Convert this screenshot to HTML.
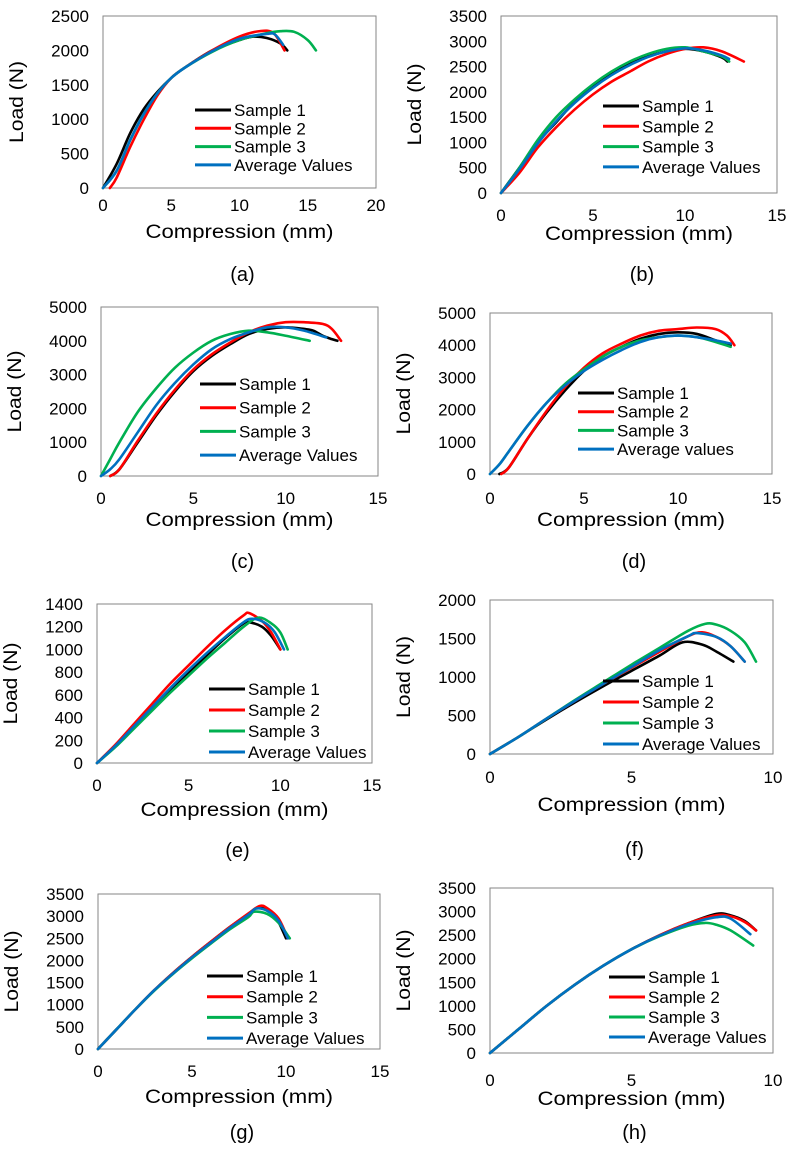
<!DOCTYPE html>
<html><head><meta charset="utf-8"><style>
html,body{margin:0;padding:0;background:#fff;}
svg{display:block;font-family:"Liberation Sans",sans-serif;}
</style></head><body>
<svg id="fig" width="791" height="1151" viewBox="0 0 791 1151" xmlns="http://www.w3.org/2000/svg"></svg>
<script>
// ---- data (x in mm, y in N) ----
const seriesNames = ["Sample 1","Sample 2","Sample 3","Average Values"];
const seriesColors = ["#000000","#ff0000","#00b050","#0070c0"];

const aS1x=[0,1,2,3,4,5,6,8,10,11,12,13,13.5], aS1y=[0,350,800,1150,1400,1600,1750,2000,2150,2200,2180,2100,2000];
const aS2x=[0.5,1,2,3,4,5,6,8,10,11.5,12.5,13.3], aS2y=[0,150,600,1000,1350,1600,1750,2000,2200,2280,2250,2000];
const aS3x=[0,1,2,3,4,5,6,8,10,12,13,14,15,15.6], aS3y=[0,250,700,1080,1380,1600,1750,1980,2150,2250,2280,2270,2150,2000];
const aAvx=[0,1,2,3,4,5,6,8,10,12,12.6,13.2], aAvy=[0,250,700,1080,1380,1600,1750,1990,2170,2240,2230,2080];

const bS1x=[0,1,2,3,4,5,6,7,8,9,10,11,12,12.3], bS1y=[0,500,1000,1400,1800,2100,2350,2550,2700,2800,2850,2800,2680,2600];
const bS2x=[0,1,2,3,4,5,6,7,8,9,10,11,12,13.2], bS2y=[0,400,900,1300,1650,1950,2200,2400,2600,2750,2850,2880,2800,2600];
const bS3x=[0,1,2,3,4,5,6,7,8,9,10,11,12,12.4], bS3y=[0,500,1050,1500,1850,2150,2400,2600,2750,2850,2880,2800,2700,2600];
const bAvx=[0,1,2,3,4,5,6,7,8,9,10,11,12,12.4], bAvy=[0,470,980,1420,1780,2080,2330,2530,2690,2800,2860,2820,2720,2650];

const cS1x=[0.5,1,2,3,4,5,6,7,8,9,10,11,11.5,12,12.5,12.8], cS1y=[0,200,1000,1800,2500,3100,3550,3900,4200,4350,4400,4350,4300,4150,4050,4000];
const cS2x=[0.5,1,2,3,4,5,6,7,8,9,10,11,12,12.5,13], cS2y=[0,200,1050,1850,2550,3150,3600,3950,4250,4450,4550,4550,4500,4350,4000];
const cS3x=[0,0.5,1,2,3,4,5,6,7,8,9,10,11.3], cS3y=[0,500,1000,1900,2600,3200,3650,4000,4200,4300,4250,4150,4000];
const cAvx=[0,0.5,1,2,3,4,5,6,7,8,9,10,11,12.2], cAvy=[0,200,500,1300,2100,2750,3300,3750,4050,4250,4400,4400,4300,4100];

const dS1x=[0.5,1,2,3,4,5,6,7,8,9,10,11,12,12.8], dS1y=[0,200,1100,1900,2600,3200,3650,3950,4200,4350,4400,4350,4150,4000];
const dS2x=[0.6,1,2,3,4,5,6,7,8,9,10,11,12,12.6,13], dS2y=[0,200,1100,1950,2700,3300,3750,4050,4300,4450,4500,4550,4500,4300,4000];
const dS3x=[0,0.5,1,2,3,4,5,6,7,8,9,10,11,12,12.8], dS3y=[0,300,700,1500,2200,2800,3250,3650,3950,4150,4250,4300,4250,4100,3950];
const dAvx=[0,0.5,1,2,3,4,5,6,7,8,9,10,11,12,12.8], dAvy=[0,300,700,1500,2200,2750,3200,3550,3850,4100,4250,4300,4250,4150,4050];

const eS1x=[0,1,2,3,4,5,6,7,8,8.3,9,9.5,10], eS1y=[0,150,320,490,650,800,950,1100,1230,1240,1200,1120,1000];
const eS2x=[0,1,2,3,4,5,6,7,8,8.3,9,9.5,10], eS2y=[0,160,340,520,700,860,1020,1170,1300,1320,1250,1150,1000];
const eS3x=[0,1,2,3,4,5,6,7,8,8.8,9.5,10,10.4], eS3y=[0,140,300,460,620,770,920,1060,1200,1280,1230,1150,1000];
const eAvx=[0,1,2,3,4,5,6,7,8,8.5,9.2,9.7,10.2], eAvy=[0,150,320,490,660,820,970,1110,1240,1270,1230,1150,1000];

const fS1x=[0,1,2,3,4,5,6,6.8,7.5,8,8.6], fS1y=[0,220,450,670,880,1080,1280,1450,1420,1330,1200];
const fS2x=[0,1,2,3,4,5,6,7,7.5,8,8.5,9], fS2y=[0,220,460,690,910,1120,1330,1530,1580,1520,1400,1200];
const fS3x=[0,1,2,3,4,5,6,7,7.6,8,8.5,9,9.4], fS3y=[0,220,460,700,930,1160,1380,1600,1690,1680,1600,1450,1200];
const fAvx=[0,1,2,3,4,5,6,7,7.3,8,8.5,9], fAvy=[0,220,460,690,910,1130,1350,1530,1570,1520,1400,1200];

const gS1x=[0,1,2,3,4,5,6,7,8,8.5,9,9.5,10], gS1y=[0,450,900,1330,1720,2080,2420,2750,3050,3200,3150,2950,2500];
const gS2x=[0,1,2,3,4,5,6,7,8,8.6,9,9.6,10.1], gS2y=[0,450,900,1330,1720,2080,2420,2750,3060,3230,3180,2950,2500];
const gS3x=[0,1,2,3,4,5,6,7,8,8.3,9,9.6,10.2], gS3y=[0,450,900,1320,1700,2050,2380,2700,2980,3100,3050,2850,2500];
const gAvx=[0,1,2,3,4,5,6,7,8,8.4,9,9.6,10.1], gAvy=[0,450,900,1330,1710,2070,2400,2730,3030,3170,3120,2900,2500];

const hS1x=[0,1,2,3,4,5,6,7,8,8.5,9,9.4], hS1y=[0,500,1000,1450,1850,2200,2500,2750,2950,2920,2800,2600];
const hS2x=[0,1,2,3,4,5,6,7,8,8.5,9,9.4], hS2y=[0,500,1000,1450,1850,2200,2500,2750,2920,2900,2780,2600];
const hS3x=[0,1,2,3,4,5,6,7,7.6,8,8.5,9.3], hS3y=[0,500,1000,1450,1850,2200,2480,2700,2760,2720,2600,2280];
const hAvx=[0,1,2,3,4,5,6,7,8,8.5,9.2], hAvy=[0,500,1000,1450,1850,2200,2490,2730,2880,2850,2520];

const xMaxes=[20,15,15,15,15,10,15,10];
const xSteps=[5,5,5,5,5,5,5,5];
const yMaxes=[2500,3500,5000,5000,1400,2000,3500,3500];
const ySteps=[500,500,1000,1000,200,500,500,500];
const captions=["(a)","(b)","(c)","(d)","(e)","(f)","(g)","(h)"];
const legendLast=["Average Values","Average Values","Average Values","Average values","Average Values","Average Values","Average Values","Average Values"];

const panelData=[
 [[aS1x,aS1y],[aS2x,aS2y],[aS3x,aS3y],[aAvx,aAvy]],
 [[bS1x,bS1y],[bS2x,bS2y],[bS3x,bS3y],[bAvx,bAvy]],
 [[cS1x,cS1y],[cS2x,cS2y],[cS3x,cS3y],[cAvx,cAvy]],
 [[dS1x,dS1y],[dS2x,dS2y],[dS3x,dS3y],[dAvx,dAvy]],
 [[eS1x,eS1y],[eS2x,eS2y],[eS3x,eS3y],[eAvx,eAvy]],
 [[fS1x,fS1y],[fS2x,fS2y],[fS3x,fS3y],[fAvx,fAvy]],
 [[gS1x,gS1y],[gS2x,gS2y],[gS3x,gS3y],[gAvx,gAvy]],
 [[hS1x,hS1y],[hS2x,hS2y],[hS3x,hS3y],[hAvx,hAvy]]
];

// ---- layout ----
const layout=[
 {l:103,r:376,t:16,b:188,tickY:211,titleY:238,capY:281,lgX:195,lgY:110,lgS:18.3},
 {l:501,r:777,t:16,b:193,tickY:221,titleY:240,capY:281,lgX:603,lgY:106,lgS:20.3},
 {l:101,r:378,t:307,b:476,tickY:504,titleY:526,capY:568,lgX:200,lgY:384,lgS:23.7},
 {l:490,r:772,t:313,b:474,tickY:504,titleY:526,capY:568,lgX:578,lgY:393,lgS:18.7},
 {l:97,r:372,t:604,b:763,tickY:791,titleY:816,capY:857,lgX:209,lgY:689,lgS:21},
 {l:490,r:773,t:600,b:754,tickY:783,titleY:811,capY:856,lgX:603,lgY:681,lgS:21},
 {l:98,r:380,t:894,b:1049,tickY:1077,titleY:1103,capY:1139,lgX:207,lgY:976,lgS:20.7},
 {l:490,r:773,t:888,b:1053,tickY:1086,titleY:1105,capY:1139,lgX:609,lgY:977,lgS:20}
];

const NS="http://www.w3.org/2000/svg";
const svg=document.getElementById('fig');
function mk(tag,attrs,parent){const e=document.createElementNS(NS,tag);for(const k in attrs)e.setAttribute(k,attrs[k]);(parent||svg).appendChild(e);return e;}
function smooth(pts){
  let d=`M${pts[0][0].toFixed(2)},${pts[0][1].toFixed(2)}`;
  for(let i=0;i<pts.length-1;i++){
    const p0=pts[Math.max(0,i-1)],p1=pts[i],p2=pts[i+1],p3=pts[Math.min(pts.length-1,i+2)];
    const c1x=p1[0]+(p2[0]-p0[0])/6,c1y=p1[1]+(p2[1]-p0[1])/6;
    const c2x=p2[0]-(p3[0]-p1[0])/6,c2y=p2[1]-(p3[1]-p1[1])/6;
    d+=` C${c1x.toFixed(2)},${c1y.toFixed(2)} ${c2x.toFixed(2)},${c2y.toFixed(2)} ${p2[0].toFixed(2)},${p2[1].toFixed(2)}`;
  }
  return d;
}
const letters="abcdefgh";
layout.forEach((L,pi)=>{
  const g=mk('g',{});
  
  
  const xs=v=>L.l+(v/xMaxes[pi])*(L.r-L.l);
  const ys=v=>L.b-(v/yMaxes[pi])*(L.b-L.t);
  const box=mk('rect',{x:L.l,y:L.t,width:L.r-L.l,height:L.b-L.t,fill:'none',stroke:'#868686','stroke-width':1},g);
  
  
  for(let v=0;v<=yMaxes[pi]+1e-6;v+=ySteps[pi]){
    const t=mk('text',{x:L.l-14,y:ys(v)+6,'text-anchor':'end','font-size':17,fill:'#000'},g);
    t.textContent=v;
    
    
  }
  for(let v=0;v<=xMaxes[pi]+1e-6;v+=xSteps[pi]){
    const t=mk('text',{x:xs(v),y:L.tickY,'text-anchor':'middle','font-size':17,fill:'#000'},g);
    t.textContent=v;
    
    
  }
  const xt=mk('text',{x:(L.l+L.r)/2,y:L.titleY,'text-anchor':'middle','font-size':19,fill:'#000',textLength:188,lengthAdjust:'spacingAndGlyphs'},g);
  xt.textContent="Compression (mm)";
  
  
  const ycx=L.l-80, ycy=(L.t+L.b)/2;
  const yt=mk('text',{x:ycx,y:ycy,'text-anchor':'middle','font-size':19,fill:'#000',transform:`rotate(-90 ${ycx} ${ycy})`,textLength:82,lengthAdjust:'spacingAndGlyphs'},g);
  yt.textContent="Load (N)";
  
  
  const cap=mk('text',{x:(L.l+L.r)/2+3,y:L.capY,'text-anchor':'middle','font-size':20,fill:'#000'},g);
  cap.textContent=captions[pi];
  
  
  panelData[pi].forEach((s,si)=>{
    const pts=s[0].map((x,i)=>[xs(x),ys(s[1][i])]);
    const p=mk('path',{d:smooth(pts),fill:'none',stroke:seriesColors[si],'stroke-width':2.6,'stroke-linejoin':'round','stroke-linecap':'round'},g);
    
    
  });
  seriesNames.forEach((n,si)=>{
    const y=L.lgY+si*L.lgS;
    const ln=mk('line',{x1:L.lgX,x2:L.lgX+36,y1:y,y2:y,stroke:seriesColors[si],'stroke-width':3},g);
    
    
    const t=mk('text',{x:L.lgX+39,y:y+6,'font-size':17,fill:'#000'},g);
    t.textContent=si===3?legendLast[pi]:n;
    
    
  });
});
</script>
</body></html>
